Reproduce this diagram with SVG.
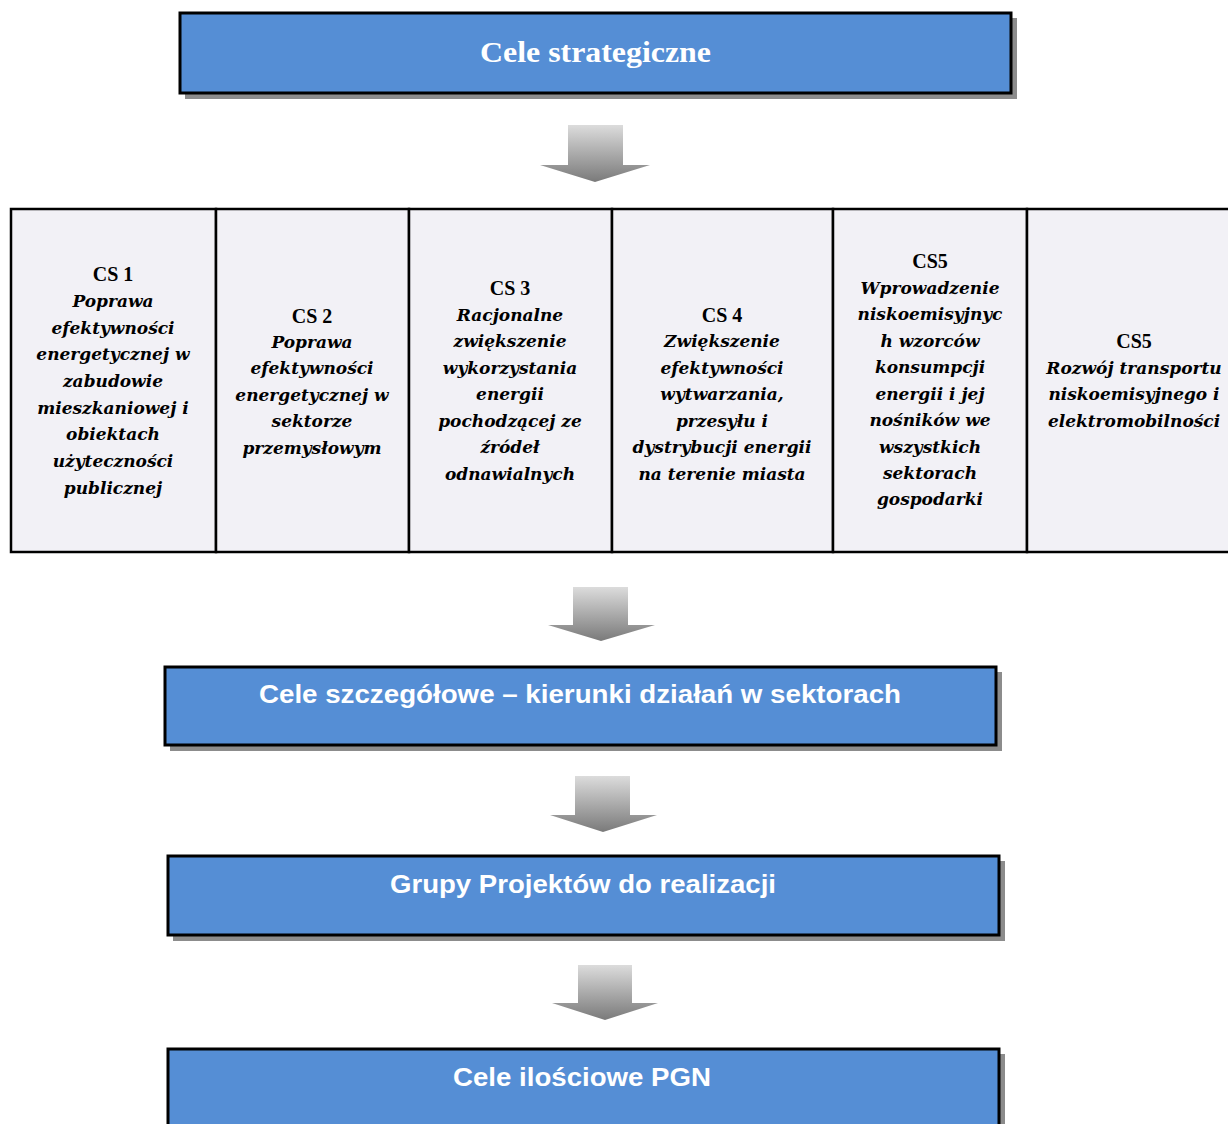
<svg xmlns="http://www.w3.org/2000/svg" width="1228" height="1124" viewBox="0 0 1228 1124">
<style>
.box{fill:#558ED5;stroke:#000;stroke-width:3}
.shadow{fill:#8c8c8c}
.cell{fill:#F2F1F6;stroke:#000;stroke-width:2.5}
.arrow{fill:url(#ag)}
.ttl-serif{font-family:"Liberation Serif",serif;font-weight:bold;font-size:30px;fill:#fff;text-anchor:middle}
.ttl-sans{font-family:"Liberation Sans",Arial,sans-serif;font-weight:bold;font-size:26px;fill:#fff;text-anchor:middle}
.hd{font-family:"Liberation Serif",serif;font-weight:bold;font-size:20px;fill:#000;text-anchor:middle}
.it{font-family:"DejaVu Serif",serif;font-weight:bold;font-style:italic;font-size:17px;fill:#000;text-anchor:middle}
</style>
<defs>
<linearGradient id="ag" x1="0" y1="0" x2="0" y2="1">
<stop offset="0" stop-color="#dcdcdc"/>
<stop offset="1" stop-color="#7a7a7a"/>
</linearGradient>
</defs>

<g id="connectors">
<path class="arrow" d="M568,125 H623 V165 H650 L595,182 L540,165 H568 Z"/>
<path class="arrow" d="M573,587 H628 V625 H655 L601,641 L548,625 H573 Z"/>
<path class="arrow" d="M575,776 H630 V815 H657 L603,832 L550,815 H575 Z"/>
<path class="arrow" d="M578,965 H632 V1003 H658 L605,1020 L552,1003 H578 Z"/>
</g>

<g id="node-cele-strategiczne">
<rect class="shadow" x="185" y="18" width="832" height="81"/>
<rect class="box" x="180" y="13" width="831" height="80"/>
<text class="ttl-serif" x="595.5" y="62" textLength="231" lengthAdjust="spacingAndGlyphs">Cele strategiczne</text>
</g>

<g id="node-cs1">
<rect class="cell" x="11" y="209" width="205" height="343"/>
<text class="hd" x="113" y="281">CS 1</text>
<text class="it" x="113" y="307">Poprawa</text>
<text class="it" x="113" y="334">efektywności</text>
<text class="it" x="113" y="360">energetycznej w</text>
<text class="it" x="113" y="387">zabudowie</text>
<text class="it" x="113" y="414">mieszkaniowej i</text>
<text class="it" x="113" y="440">obiektach</text>
<text class="it" x="113" y="467">użyteczności</text>
<text class="it" x="113" y="494">publicznej</text>
</g>

<g id="node-cs2">
<rect class="cell" x="216" y="209" width="193" height="343"/>
<text class="hd" x="312" y="323">CS 2</text>
<text class="it" x="312" y="348">Poprawa</text>
<text class="it" x="312" y="374">efektywności</text>
<text class="it" x="312" y="401">energetycznej w</text>
<text class="it" x="312" y="427">sektorze</text>
<text class="it" x="312" y="454">przemysłowym</text>
</g>

<g id="node-cs3">
<rect class="cell" x="409" y="209" width="203" height="343"/>
<text class="hd" x="510" y="295">CS 3</text>
<text class="it" x="510" y="321">Racjonalne</text>
<text class="it" x="510" y="347">zwiększenie</text>
<text class="it" x="510" y="374">wykorzystania</text>
<text class="it" x="510" y="400">energii</text>
<text class="it" x="510" y="427">pochodzącej ze</text>
<text class="it" x="510" y="453">źródeł</text>
<text class="it" x="510" y="480">odnawialnych</text>
</g>

<g id="node-cs4">
<rect class="cell" x="612" y="209" width="221" height="343"/>
<text class="hd" x="722" y="322">CS 4</text>
<text class="it" x="722" y="347">Zwiększenie</text>
<text class="it" x="722" y="374">efektywności</text>
<text class="it" x="722" y="400">wytwarzania,</text>
<text class="it" x="722" y="427">przesyłu i</text>
<text class="it" x="722" y="453">dystrybucji energii</text>
<text class="it" x="722" y="480">na terenie miasta</text>
</g>

<g id="node-cs5a">
<rect class="cell" x="833" y="209" width="194" height="343"/>
<text class="hd" x="930" y="268">CS5</text>
<text class="it" x="930" y="294">Wprowadzenie</text>
<text class="it" x="930" y="320">niskoemisyjnyc</text>
<text class="it" x="930" y="347">h wzorców</text>
<text class="it" x="930" y="373">konsumpcji</text>
<text class="it" x="930" y="400">energii i jej</text>
<text class="it" x="930" y="426">nośników we</text>
<text class="it" x="930" y="453">wszystkich</text>
<text class="it" x="930" y="479">sektorach</text>
<text class="it" x="930" y="505">gospodarki</text>
</g>

<g id="node-cs5b">
<rect class="cell" x="1027" y="209" width="215" height="343"/>
<text class="hd" x="1134" y="348">CS5</text>
<text class="it" x="1134" y="374">Rozwój transportu</text>
<text class="it" x="1134" y="400">niskoemisyjnego i</text>
<text class="it" x="1134" y="427">elektromobilności</text>
</g>

<g id="node-cele-szczegolowe">
<rect class="shadow" x="170" y="672" width="832" height="79"/>
<rect class="box" x="165" y="667" width="831" height="78"/>
<text class="ttl-sans" x="580" y="703" textLength="642" lengthAdjust="spacingAndGlyphs">Cele szczegółowe – kierunki działań w sektorach</text>
</g>

<g id="node-grupy-projektow">
<rect class="shadow" x="173" y="861" width="832" height="80"/>
<rect class="box" x="168" y="856" width="831" height="79"/>
<text class="ttl-sans" x="583" y="893" textLength="386" lengthAdjust="spacingAndGlyphs">Grupy Projektów do realizacji</text>
</g>

<g id="node-cele-ilosciowe">
<rect class="shadow" x="173" y="1054" width="832" height="80"/>
<rect class="box" x="168" y="1049" width="831" height="85"/>
<text class="ttl-sans" x="582" y="1086" textLength="258" lengthAdjust="spacingAndGlyphs">Cele ilościowe PGN</text>
</g>
</svg>
